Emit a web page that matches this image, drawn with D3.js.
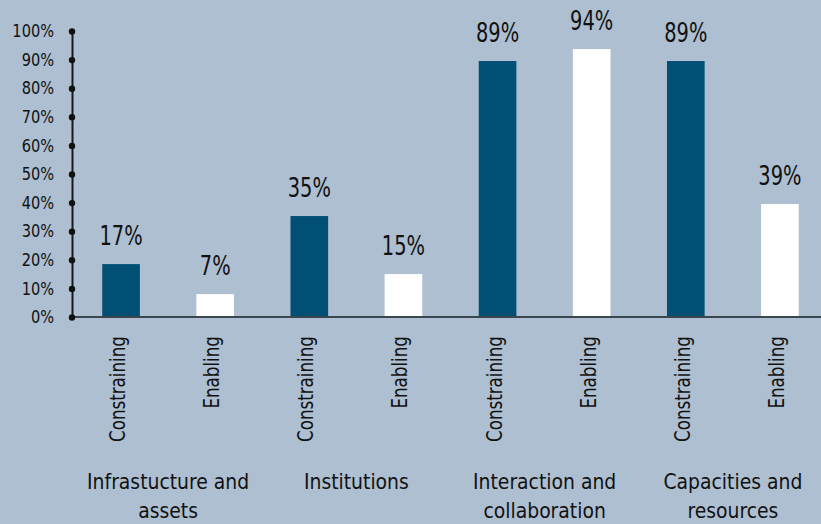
<!DOCTYPE html>
<html>
<head>
<meta charset="utf-8">
<script src="https://cdn.jsdelivr.net/npm/d3@7"></script>
<style>
  html, body { margin: 0; padding: 0; background: #adbfd1; }
  svg { display: block; }
  text { font-family: "DejaVu Sans Condensed", "DejaVu Sans", sans-serif; fill: #111; }
</style>
</head>
<body>
<svg id="chart" width="821" height="524"></svg>
<script>
const groups = ["Infrastucture and|assets", "Institutions", "Interaction and|collaboration", "Capacities and|resources"];
const types = ["Constraining", "Enabling", "Constraining", "Enabling", "Constraining", "Enabling", "Constraining", "Enabling"];
const values = [18.5, 8, 35.3, 15, 89.5, 93.7, 89.5, 39.5];
const valueLabels = ["17%", "7%", "35%", "15%", "89%", "94%", "89%", "39%"];
const yTicks = [0, 10, 20, 30, 40, 50, 60, 70, 80, 90, 100];

const svg = d3.select("#chart");
const W = 821, H = 524;
svg.append("rect").attr("width", W).attr("height", H).attr("fill", "#adbfd1");

const x = d3.scaleBand().domain(d3.range(values.length)).range([74, 827]).paddingInner(0.6).paddingOuter(0.3);
const y = d3.scaleLinear().domain([0, 100]).range([317, 31]);
const colors = ["#024f75", "#ffffff"];

// bars
svg.selectAll("rect.bar").data(values).join("rect")
  .attr("class", "bar")
  .attr("x", (d, i) => x(i))
  .attr("width", x.bandwidth())
  .attr("y", d => y(d))
  .attr("height", d => y(0) - y(d))
  .attr("fill", (d, i) => colors[i % 2]);

// value labels
svg.selectAll("text.val").data(values).join("text")
  .attr("class", "val")
  .attr("transform", (d, i) => `translate(${x(i) + x.bandwidth() / 2},${y(d) - 19}) scale(0.83,1)`)
  .attr("text-anchor", "middle")
  .style("font-size", "26px")
  .text((d, i) => valueLabels[i]);

// x axis baseline
svg.append("line").attr("x1", 72).attr("x2", W).attr("y1", y(0)).attr("y2", y(0))
  .attr("stroke", "#3b4650").attr("stroke-width", 2);

// y axis
const yAxis = d3.axisLeft(y).tickValues(yTicks).tickFormat(d => d + "%").tickSize(0).tickPadding(0);
const ga = svg.append("g").attr("transform", "translate(72,0)").call(yAxis);
ga.select(".domain").attr("stroke", "#1a1a1a").attr("stroke-width", 2);
ga.selectAll(".tick text")
  .style("font-size", "18px").attr("fill", "#111").style("font-family", null)
  .attr("x", -18 / 0.9).attr("transform", "scale(0.9,1)");
ga.selectAll(".tick").append("circle").attr("r", 3.2).attr("fill", "#111");

// rotated category labels
svg.selectAll("text.cat").data(types).join("text")
  .attr("class", "cat")
  .attr("transform", (d, i) => `translate(${x(i) + x.bandwidth() / 2 + 4},336) rotate(-90) scale(0.865,1)`)
  .attr("text-anchor", "end")
  .style("font-size", "21.5px")
  .text(d => d);

// group labels
groups.forEach((g, gi) => {
  const cx = (x(gi * 2) + x(gi * 2 + 1) + x.bandwidth()) / 2;
  const lines = g.split("|");
  lines.forEach((ln, li) => {
    svg.append("text")
      .attr("transform", `translate(${cx},${489 + li * 29}) scale(0.95,1)`)
      .attr("text-anchor", "middle")
      .style("font-size", "22px")
      .text(ln);
  });
});
</script>
</body>
</html>
